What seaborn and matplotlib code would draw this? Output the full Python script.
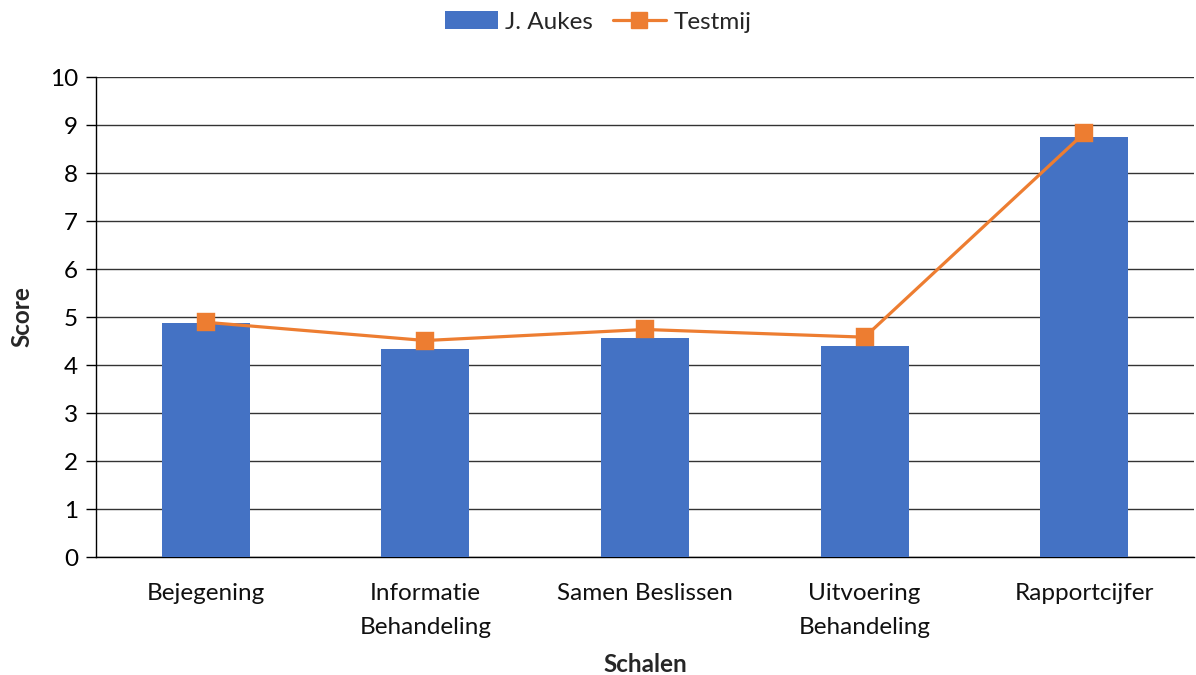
import matplotlib
matplotlib.use("Agg")
import matplotlib.pyplot as plt
import seaborn as sns
import numpy as np
from matplotlib.lines import Line2D
from matplotlib.patches import Patch

categories = ["Bejegening", "Informatie\nBehandeling", "Samen Beslissen", "Uitvoering\nBehandeling", "Rapportcijfer"]
aukes = [4.87, 4.33, 4.56, 4.40, 8.74]
testmij = [4.89, 4.51, 4.74, 4.58, 8.83]
yticks = list(range(0, 11))

sns.set_theme(style="white")
plt.rcParams['font.family'] = ['Lato', 'DejaVu Sans']

fig = plt.figure(figsize=(11.96, 6.75), dpi=100)
ax = fig.add_axes([96/1196, 1-557/675, (1194-96)/1196, (557-77)/675])

bar_c = "#4472C4"
line_c = "#ED7D31"
fs = 17.5

sns.barplot(x=categories, y=aukes, color=bar_c, width=0.4, ax=ax, saturation=1, zorder=3,
            edgecolor="none")
sns.pointplot(x=categories, y=testmij, color=line_c, markers="s", linestyles="-", ax=ax,
              markersize=11, linewidth=2.3, zorder=4)

ax.set_xlim(-0.5, 4.5)
ax.set_ylim(0, 10)
ax.set_yticks(yticks)
ax.yaxis.grid(True, color="#333333", linewidth=1.0, zorder=0)
ax.xaxis.grid(False)
for s in ["top", "right"]:
    ax.spines[s].set_visible(False)
ax.spines["left"].set_color("black")
ax.spines["bottom"].set_color("black")
ax.spines["left"].set_linewidth(1.0)
ax.spines["bottom"].set_linewidth(1.0)

ax.set_xticks(range(len(categories)))
ax.set_xticklabels(categories, linespacing=1.75)
ax.set_xticks(np.arange(-0.5, 5.0, 1.0), minor=True)
ax.tick_params(axis="x", which="major", length=0, pad=19, labelsize=fs, colors="#111111")
ax.tick_params(axis="x", which="minor", length=6, width=1, color="black", direction="out")
ax.tick_params(axis="y", which="major", length=7, width=1, direction="out",
               labelsize=fs, pad=6, left=True)
ax.tick_params(axis="y", colors="black")

ax.set_xlabel("Schalen", fontsize=fs, fontweight="bold", labelpad=11)
ax.set_ylabel("Score", fontsize=fs, fontweight="bold", labelpad=12)

handles = [Patch(facecolor=bar_c, edgecolor="none"),
           Line2D([0], [0], color=line_c, linewidth=2.3, marker="s", markersize=11)]
fig.legend(handles, ["J. Aukes", "Testmij"], loc="center", bbox_to_anchor=(0.5, 1-22/675),
           ncol=2, frameon=False, fontsize=fs, handlelength=2.2, columnspacing=0.8,
           handletextpad=0.3)

fig.savefig("out.png", dpi=100)
